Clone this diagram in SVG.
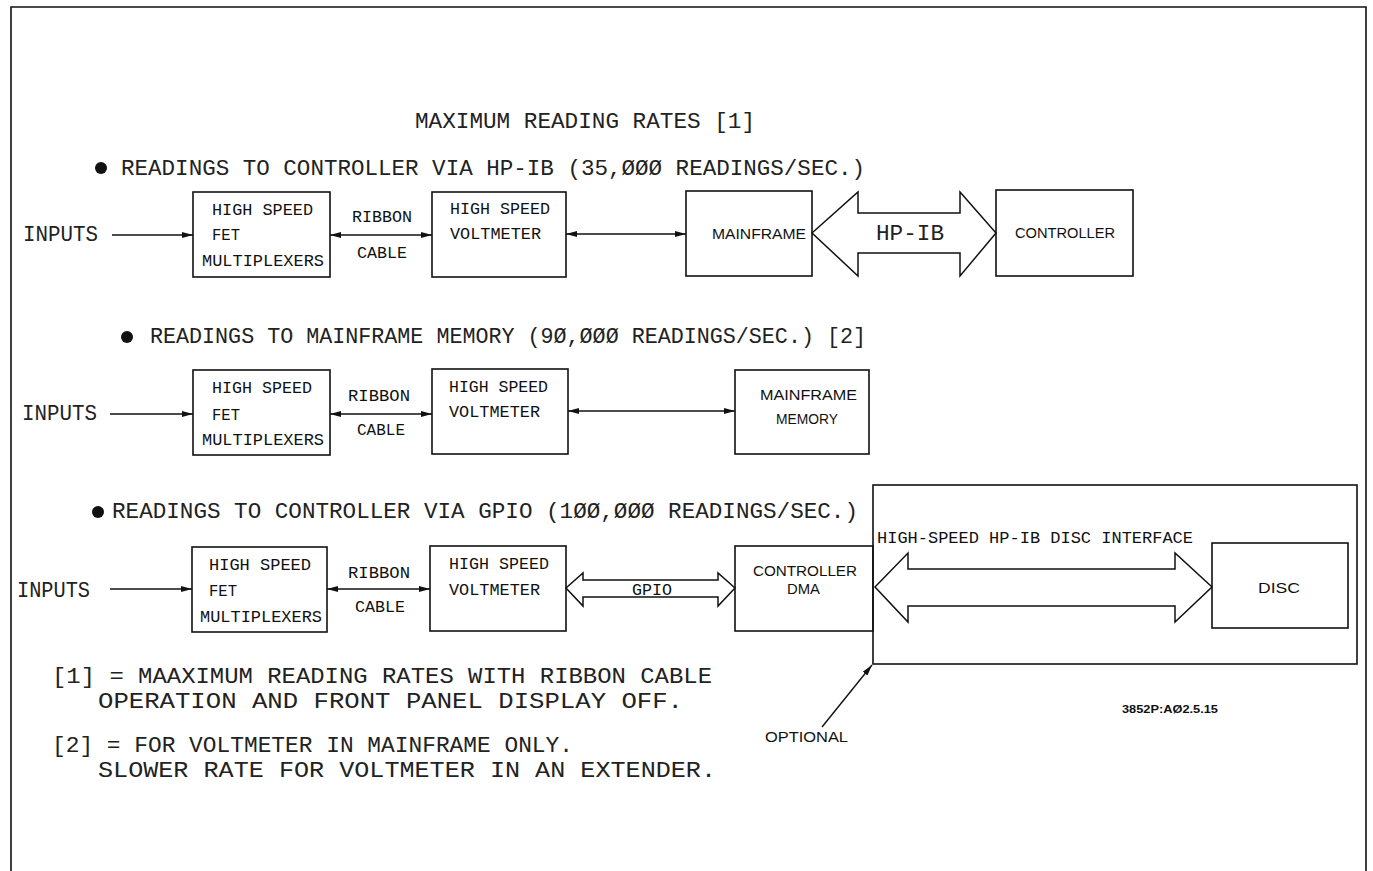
<svg xmlns="http://www.w3.org/2000/svg" width="1373" height="871" viewBox="0 0 1373 871">
<defs>
<marker id="ah" markerUnits="userSpaceOnUse" markerWidth="12" markerHeight="8" refX="11" refY="4" orient="auto-start-reverse">
<path d="M0,1 L11,4 L0,7 z" fill="#111"/>
</marker>
<style>
.box{fill:none;stroke:#111;stroke-width:1.6}
.ln{fill:none;stroke:#111;stroke-width:1.4}
.big{fill:none;stroke:#111;stroke-width:1.5;stroke-linejoin:miter}
.h{font-family:"Liberation Mono",monospace;font-size:22px;fill:#222}
.b{font-family:"Liberation Mono",monospace;font-size:17px;fill:#111}
.s{font-family:"Liberation Sans",Arial,sans-serif;font-size:15px;fill:#111}
.n{font-family:"Liberation Mono",monospace;font-size:22px;fill:#222}
</style>
</defs>
<rect width="1373" height="871" fill="#fff"/>
<path class="box" d="M11,871 V7 H1366 V871"/>

<text class="h" x="415" y="128" textLength="340" lengthAdjust="spacingAndGlyphs">MAXIMUM READING RATES [1]</text>

<g id="row1">
<circle cx="101" cy="168" r="6" fill="#111"/>
<text class="h" x="121" y="175" textLength="744" lengthAdjust="spacingAndGlyphs">READINGS TO CONTROLLER VIA HP-IB (35,ØØØ READINGS/SEC.)</text>
<text class="h" x="23" y="241" textLength="75" lengthAdjust="spacingAndGlyphs">INPUTS</text>
<g id="fet1"><rect class="box" x="193" y="192" width="137" height="85"/>
<text class="b" x="212" y="215" textLength="101" lengthAdjust="spacingAndGlyphs">HIGH SPEED</text>
<text class="b" x="212" y="240" textLength="28" lengthAdjust="spacingAndGlyphs">FET</text>
<text class="b" x="202" y="266" textLength="122" lengthAdjust="spacingAndGlyphs">MULTIPLEXERS</text></g>
<text class="b" x="352" y="222" textLength="60" lengthAdjust="spacingAndGlyphs">RIBBON</text>
<text class="b" x="357" y="258" textLength="50" lengthAdjust="spacingAndGlyphs">CABLE</text>
<g id="vm1"><rect class="box" x="432" y="192" width="134" height="85"/>
<text class="b" x="450" y="214" textLength="100" lengthAdjust="spacingAndGlyphs">HIGH SPEED</text>
<text class="b" x="450" y="239" textLength="91" lengthAdjust="spacingAndGlyphs">VOLTMETER</text></g>
<g id="mf1"><rect class="box" x="686" y="191" width="126" height="85"/>
<text class="s" x="712" y="239" textLength="94" lengthAdjust="spacingAndGlyphs">MAINFRAME</text></g>
<g id="ctl1"><rect class="box" x="996" y="190" width="137" height="86"/>
<text class="s" x="1015" y="238" textLength="100" lengthAdjust="spacingAndGlyphs">CONTROLLER</text></g>
</g>

<g id="row2">
<circle cx="127" cy="337" r="6" fill="#111"/>
<text class="h" x="150" y="343" textLength="716" lengthAdjust="spacingAndGlyphs">READINGS TO MAINFRAME MEMORY (9Ø,ØØØ READINGS/SEC.) [2]</text>
<text class="h" x="22" y="420" textLength="75" lengthAdjust="spacingAndGlyphs">INPUTS</text>
<g id="fet2"><rect class="box" x="193" y="370" width="137" height="85"/>
<text class="b" x="212" y="393" textLength="100" lengthAdjust="spacingAndGlyphs">HIGH SPEED</text>
<text class="b" x="212" y="420" textLength="28" lengthAdjust="spacingAndGlyphs">FET</text>
<text class="b" x="202" y="445" textLength="122" lengthAdjust="spacingAndGlyphs">MULTIPLEXERS</text></g>
<text class="b" x="348" y="401" textLength="62" lengthAdjust="spacingAndGlyphs">RIBBON</text>
<text class="b" x="357" y="435" textLength="48" lengthAdjust="spacingAndGlyphs">CABLE</text>
<g id="vm2"><rect class="box" x="432" y="369" width="136" height="85"/>
<text class="b" x="449" y="392" textLength="99" lengthAdjust="spacingAndGlyphs">HIGH SPEED</text>
<text class="b" x="449" y="417" textLength="91" lengthAdjust="spacingAndGlyphs">VOLTMETER</text></g>
<g id="mem2"><rect class="box" x="735" y="370" width="134" height="84"/>
<text class="s" x="760" y="400" textLength="97" lengthAdjust="spacingAndGlyphs">MAINFRAME</text>
<text class="s" x="776" y="424" textLength="62" lengthAdjust="spacingAndGlyphs">MEMORY</text></g>
</g>

<g id="row3">
<circle cx="98" cy="512" r="6" fill="#111"/>
<text class="h" x="112" y="518" textLength="746" lengthAdjust="spacingAndGlyphs">READINGS TO CONTROLLER VIA GPIO (1ØØ,ØØØ READINGS/SEC.)</text>
<text class="h" x="17" y="597" textLength="73" lengthAdjust="spacingAndGlyphs">INPUTS</text>
<g id="fet3"><rect class="box" x="192" y="547" width="135" height="85"/>
<text class="b" x="209" y="570" textLength="102" lengthAdjust="spacingAndGlyphs">HIGH SPEED</text>
<text class="b" x="209" y="596" textLength="28" lengthAdjust="spacingAndGlyphs">FET</text>
<text class="b" x="200" y="622" textLength="122" lengthAdjust="spacingAndGlyphs">MULTIPLEXERS</text></g>
<text class="b" x="348" y="578" textLength="62" lengthAdjust="spacingAndGlyphs">RIBBON</text>
<text class="b" x="355" y="612" textLength="50" lengthAdjust="spacingAndGlyphs">CABLE</text>
<g id="vm3"><rect class="box" x="430" y="546" width="136" height="85"/>
<text class="b" x="449" y="569" textLength="100" lengthAdjust="spacingAndGlyphs">HIGH SPEED</text>
<text class="b" x="449" y="595" textLength="91" lengthAdjust="spacingAndGlyphs">VOLTMETER</text></g>
<g id="dma3"><rect class="box" x="735" y="546" width="138" height="85"/>
<text class="s" x="753" y="576" textLength="104" lengthAdjust="spacingAndGlyphs">CONTROLLER</text>
<text class="s" x="787" y="594" textLength="33" lengthAdjust="spacingAndGlyphs">DMA</text></g>
<g id="optional"><rect class="box" x="873" y="485" width="484" height="179"/>
<text class="b" x="877" y="543" textLength="316" lengthAdjust="spacingAndGlyphs">HIGH-SPEED HP-IB DISC INTERFACE</text></g>
<g id="disc"><rect class="box" x="1212" y="543" width="136" height="85"/>
<text class="s" x="1258" y="593" textLength="42" lengthAdjust="spacingAndGlyphs">DISC</text></g>
</g>

<g id="connectors">
<line class="ln" x1="112" y1="235" x2="193" y2="235" marker-end="url(#ah)"/>
<line class="ln" x1="330" y1="235" x2="432" y2="235" marker-start="url(#ah)" marker-end="url(#ah)"/>
<line class="ln" x1="566" y1="234" x2="686" y2="234" marker-start="url(#ah)" marker-end="url(#ah)"/>
<path class="big" d="M812,233 L858,192 V213 H960 V192 L996,233 L960,276 V253 H858 V276 Z"/>
<text class="h" x="876" y="240" textLength="68" lengthAdjust="spacingAndGlyphs">HP-IB</text>

<line class="ln" x1="110" y1="414" x2="193" y2="414" marker-end="url(#ah)"/>
<line class="ln" x1="330" y1="414" x2="432" y2="414" marker-start="url(#ah)" marker-end="url(#ah)"/>
<line class="ln" x1="568" y1="411" x2="735" y2="411" marker-start="url(#ah)" marker-end="url(#ah)"/>

<line class="ln" x1="110" y1="589" x2="192" y2="589" marker-end="url(#ah)"/>
<line class="ln" x1="327" y1="589" x2="430" y2="589" marker-start="url(#ah)" marker-end="url(#ah)"/>
<path class="big" d="M566,588 L583,573 V580 H718 V573 L735,588 L718,606 V597 H583 V606 Z"/>
<text class="b" x="632" y="595" textLength="40" lengthAdjust="spacingAndGlyphs">GPIO</text>
<path class="big" d="M875,587 L908,553 V569 H1175 V553 L1212,587 L1175,622 V606 H908 V622 Z"/>
<line class="ln" x1="822" y1="727" x2="872" y2="665" marker-end="url(#ah)"/>
</g>

<g id="notes">
<text class="n" x="52" y="683" textLength="660" lengthAdjust="spacingAndGlyphs">[1] = MAAXIMUM READING RATES WITH RIBBON CABLE</text>
<text class="n" x="98" y="708" textLength="585" lengthAdjust="spacingAndGlyphs">OPERATION AND FRONT PANEL DISPLAY OFF.</text>
<text class="n" x="52" y="752" textLength="521" lengthAdjust="spacingAndGlyphs">[2] = FOR VOLTMETER IN MAINFRAME ONLY.</text>
<text class="n" x="98" y="777" textLength="618" lengthAdjust="spacingAndGlyphs">SLOWER RATE FOR VOLTMETER IN AN EXTENDER.</text>
<text class="s" x="765" y="742" textLength="83" lengthAdjust="spacingAndGlyphs" style="font-size:14px">OPTIONAL</text>
<text class="s" x="1122" y="713" textLength="96" lengthAdjust="spacingAndGlyphs" style="font-size:10px;font-weight:bold">3852P:AØ2.5.15</text>
</g>
</svg>
